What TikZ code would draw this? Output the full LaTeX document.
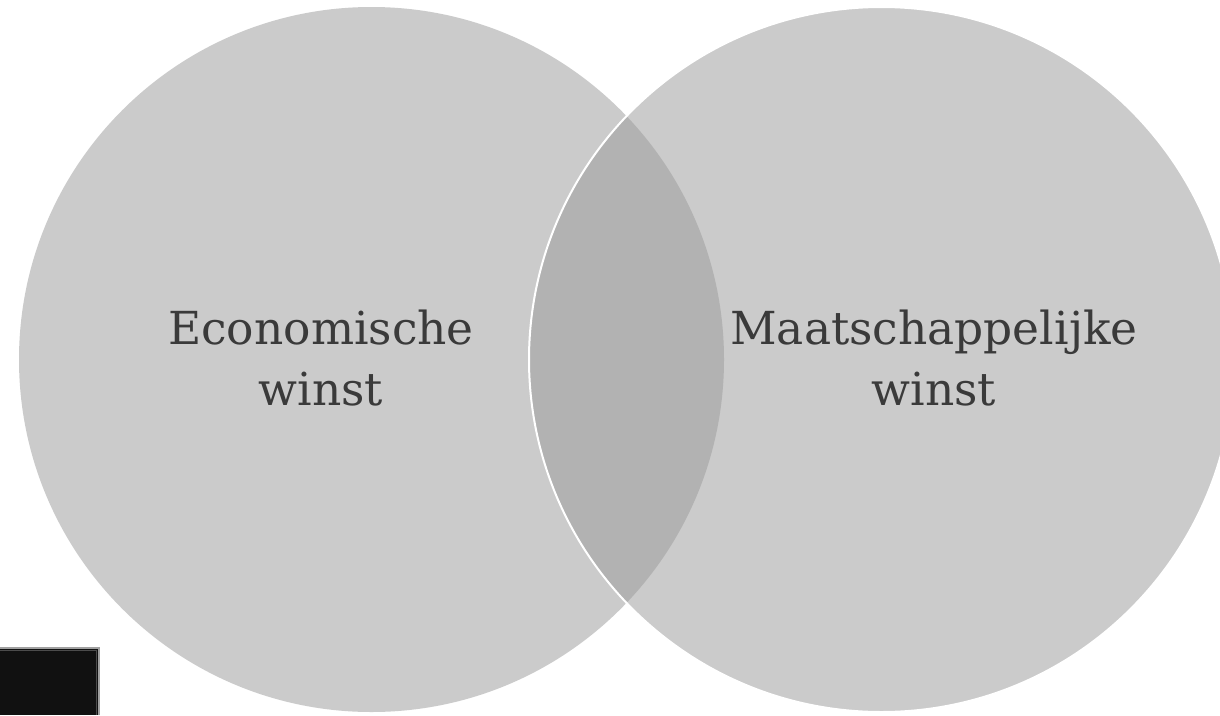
\documentclass[tikz,border=0pt]{standalone}
\usepackage{fontspec}
\setmainfont{DejaVu Serif}
\definecolor{circgray}{HTML}{CBCBCB}
\definecolor{lensgray}{HTML}{B2B2B2}
\definecolor{textgray}{HTML}{3A3A3A}
\definecolor{boxblack}{HTML}{111111}
\definecolor{boxedge}{HTML}{A0A0A0}
\tikzset{
  venn/.style={circle, fill=circgray, inner sep=0pt, minimum size=705pt},
  label text/.style={text=textgray, align=center, font=\fontsize{45.5}{61}\selectfont},
}
\begin{document}
\begin{tikzpicture}[x=1pt,y=-1pt]
\useasboundingbox (0,0) rectangle (1220,715);
\clip (0,0) rectangle (1220,715);
\fill[white] (0,0) rectangle (1220,715);
\node[venn] (L) at (371.5,359.5) {};
\node[venn] (R) at (881.5,359.5) {};
\begin{scope}
  \clip (371.5,359.5) circle (352.5);
  \fill[lensgray] (881.5,359.5) circle (352.5);
\end{scope}
\draw[white, line width=2pt] (881.5,359.5) circle (352.5);
\node[label text] (econ) at (321,358) {Economische\\winst};
\node[label text] (maat) at (934,358) {Maatschappelijke\\winst};
\fill[boxblack] (0,647) rectangle (100,715);
\draw[boxedge, line width=2pt] (0,648) -- (99,648) -- (99,715);
\draw[black!70, line width=1pt] (0,650.5) -- (96.5,650.5) -- (96.5,715);
\end{tikzpicture}
\end{document}
